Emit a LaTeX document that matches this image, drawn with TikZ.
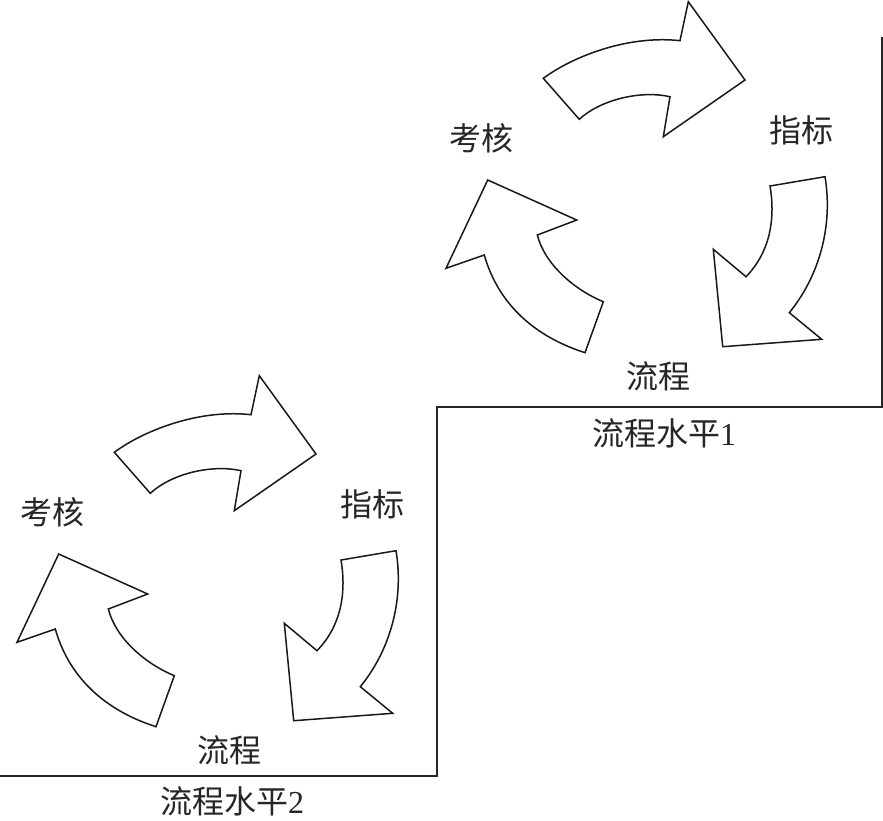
\documentclass[tikz,border=0pt]{standalone}
\usepackage{fontspec}
\setmainfont{Liberation Serif}
\newfontfamily\cjk{Noto Sans CJK SC}
\newcommand{\mycycle}[1]{%
  % top arrow
  \draw[arrowshape] (543.3,78.3) .. controls (575,55) and (630,35) .. (680,40.7)
    -- (688.3,1.7) -- (745,80) -- (663.3,136.7) -- (670,96.7)
    .. controls (640,90) and (600,100) .. (579.3,119.3) -- cycle;
  % right arrow
  \draw[arrowshape] (825,176.7) -- (770,186)
    .. controls (775,215) and (772,250) .. (746,276.7)
    -- (713.3,249.3) -- (722.7,346.7) -- (821.7,339.3) -- (789.3,312.7)
    .. controls (820,275) and (833,225) .. cycle;
  % left arrow
  \draw[arrowshape] (603.3,301.7)
    .. controls (575,290) and (545,265) .. (537.3,235)
    -- (576.7,220) -- (487.7,180) -- (446,268.3) -- (484.3,255)
    .. controls (497,300) and (530,335) .. (585,352.7) -- cycle;
  \node[lbl] (#1kh) at (481.7,138.3) {考核};
  \node[lbl] (#1zb) at (801.7,130) {指标};
  \node[lbl] (#1lc) at (658.3,376.7) {流程};
}
\begin{document}
\begin{tikzpicture}[x=1pt,y=-1pt,
  arrowshape/.style={draw=black!90, line width=1.5pt, line join=miter, fill=white},
  frame/.style={draw=black!85, line width=2pt},
  lbl/.style={font=\fontsize{32}{36}\selectfont\cjk, inner sep=0pt, text=black!85}]
\useasboundingbox[fill=white] (0,0) rectangle (883,820);
\coordinate (f1) at (881.5,37);
\coordinate (f2) at (881.5,406.5);
\coordinate (f3) at (437,406.5);
\coordinate (f4) at (437,776);
\coordinate (f5) at (0,776);
\draw[frame] (f1) -- (f2) -- (f3) -- (f4) -- (f5);
\mycycle{a}
\begin{scope}[shift={(-429,374)}]
\mycycle{b}
\end{scope}
\node[lbl] (lv1) at (664,433) {流程水平{\rmfamily 1}};
\node[lbl] (lv2) at (232,801) {流程水平{\rmfamily 2}};
\end{tikzpicture}
\end{document}
